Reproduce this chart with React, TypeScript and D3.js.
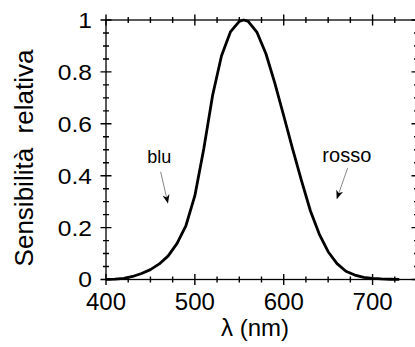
import React from "react";
import * as d3 from "d3";

const wavelengths = [400, 410, 420, 430, 440, 450, 460, 470, 480, 490, 500, 510, 520, 530, 540, 550, 555, 560, 570, 580, 590, 600, 610, 620, 630, 640, 650, 660, 670, 680, 690, 700, 710, 720, 730];
const sensitivity = [0.0004, 0.0012, 0.004, 0.0116, 0.023, 0.038, 0.06, 0.091, 0.139, 0.208, 0.323, 0.503, 0.71, 0.862, 0.954, 0.995, 1.0, 0.995, 0.952, 0.87, 0.757, 0.631, 0.503, 0.381, 0.265, 0.175, 0.107, 0.061, 0.032, 0.017, 0.0082, 0.0041, 0.0021, 0.00105, 0.0005];
const xTickLabels = [400, 500, 600, 700];
const yTickLabels = [0, 0.2, 0.4, 0.6, 0.8, 1];
const annotations = [
  { text: "blu", lx: 460, ly: 0.48, fromX: 461.5, fromY: 0.415, toX: 469.5, toY: 0.296, size: 18 },
  { text: "rosso", lx: 671, ly: 0.485, fromX: 672, fromY: 0.43, toX: 660, toY: 0.313, size: 20 },
];

const FONT = "'Liberation Sans', Arial, Helvetica, sans-serif";

export default function App() {
  const W = 415, H = 347;
  const x = d3.scaleLinear().domain([400, 750]).range([106, 417]);
  const y = d3.scaleLinear().domain([0, 1]).range([279.5, 20]);
  const xMinor = d3.range(0, 15).map((i) => 400 + i * 25);
  const yMinor = d3.range(0, 21).map((i) => i / 20);
  const line = d3.line<number>().x((_, i) => x(wavelengths[i])).y((d) => y(d));
  const path = line(sensitivity) || "";
  const x0 = x(400), x1 = x(750), y0 = y(0), y1 = y(1);

  const tickPath: string[] = [];
  xMinor.forEach((v, i) => {
    const h = i % 4 === 0 ? 5.5 : 3;
    const px = x(v);
    tickPath.push(`M${px},${y0 - h}V${y0 + h}`);
    tickPath.push(`M${px},${y1 - h}V${y1 + h}`);
  });
  yMinor.forEach((v, i) => {
    const h = i % 4 === 0 ? 5.5 : 3;
    const py = y(v);
    tickPath.push(`M${x0 - h},${py}H${x0 + h}`);
    tickPath.push(`M${x1 - h},${py}H${x1 + h}`);
  });

  return (
    <svg width={W} height={H} style={{ position: "fixed", left: 0, top: 0, background: "#fff" }} fontFamily={FONT}>
      <defs>
        <marker id="ah" viewBox="0 0 10 10" refX="9" refY="5" markerWidth="9" markerHeight="9" orient="auto" markerUnits="userSpaceOnUse">
          <path d="M0,1 L10,5 L0,9 L3,5 Z" fill="#000" />
        </marker>
      </defs>
      {/* frame */}
      <rect x={x0} y={y1} width={x1 - x0} height={y0 - y1} fill="none" stroke="#000" strokeWidth={1.3} />
      {/* ticks */}
      <path d={tickPath.join(" ")} fill="none" stroke="#000" strokeWidth={1.4} />
      {/* x labels */}
      {xTickLabels.map((v) => (
        <text key={"xl" + v} x={x(v)} y={y0 + 30} textAnchor="middle" fontSize={24} fill="#000">
          {v}
        </text>
      ))}
      {/* y labels */}
      {yTickLabels.map((v) => (
        <text key={"yl" + v} x={92} y={y(v) + 8} textAnchor="end" fontSize={22} fill="#000"
          transform={`translate(92,0) scale(1.12,1) translate(-92,0)`}>
          {String(v)}
        </text>
      ))}
      {/* axis titles */}
      <text x={255} y={336} textAnchor="middle" fontSize={24} fill="#000">λ (nm)</text>
      <text transform={`translate(33,158) rotate(-90)`} textAnchor="middle" fontSize={26} fill="#000" style={{ whiteSpace: "pre" }}>
        {"Sensibilità  relativa"}
      </text>
      {/* curve */}
      <path d={path} fill="none" stroke="#000" strokeWidth={2.8} strokeLinejoin="round" />
      {/* annotations */}
      {annotations.map((a) => (
        <g key={a.text}>
          <text x={x(a.lx)} y={y(a.ly) + 8} textAnchor="middle" fontSize={a.size} fill="#000">{a.text}</text>
          <line x1={x(a.fromX)} y1={y(a.fromY)} x2={x(a.toX)} y2={y(a.toY)} stroke="#888" strokeWidth={1} markerEnd="url(#ah)" />
        </g>
      ))}
    </svg>
  );
}
